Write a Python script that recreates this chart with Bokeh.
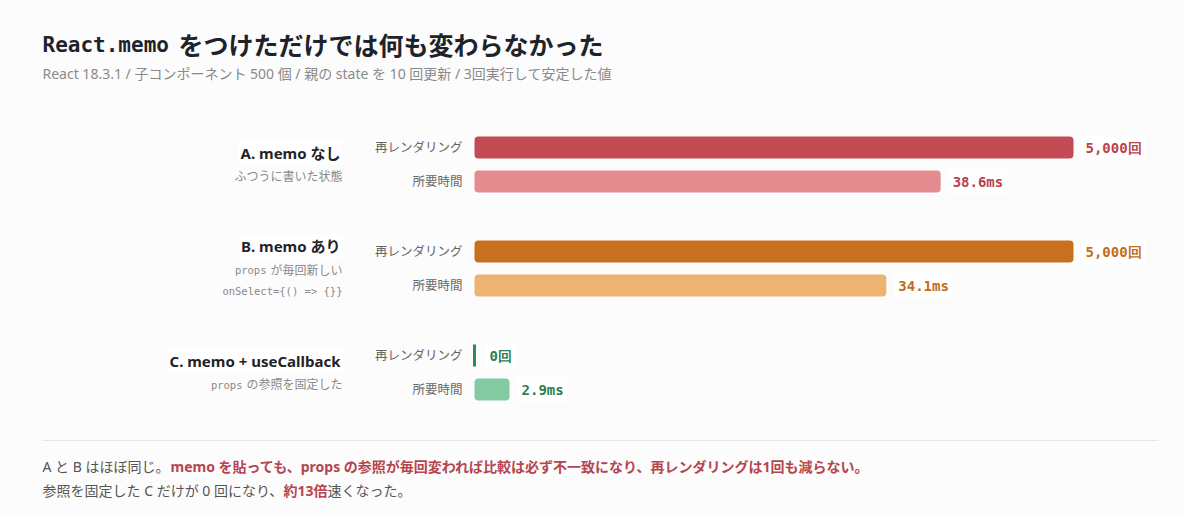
from bokeh.core.properties import value
from bokeh.embed import file_html
from bokeh.models import BooleanFilter, CDSView, ColumnDataSource, Range1d
from bokeh.plotting import figure
from bokeh.resources import INLINE

# data
groups = ["A. memo なし", "B. memo あり", "C. memo + useCallback"]
# each note line: (mono part, sans part)
group_notes = [
    [("", "ふつうに書いた状態")],
    [("props", "が毎回新しい"), ("onSelect={() => {}}", "")],
    [("props", "の参照を固定した")],
]
row_names = ["再レンダリング", "所要時間"]
rerenders = [5000, 5000, 0]
times_ms = [38.6, 34.1, 2.9]
rerender_labels = ["5,000回", "5,000回", "0回"]
time_labels = ["38.6ms", "34.1ms", "2.9ms"]

dark = ["#c24b54", "#c9701f", "#2e8a57"]
light = ["#e48b8f", "#ecb373", "#83c9a2"]
value_colors = ["#b8434d", "#c06d1d", "#2b7f50"]

SANS = value("'Noto Sans', 'Noto Sans CJK JP'")
MONO = value("DejaVu Sans Mono")
BG = "#fcfcfc"

# layout, in screenshot pixels (data units == px)
W, H = 1184, 514
LEFT, TRACK = 474, 599
COUNT_MAX, MS_MAX = 5000, 49.6
FIRST_ROW, GROUP_GAP, ROW_GAP, BAR_H = 147, 104, 34, 22

p = figure(width=W, height=H, output_backend="svg", toolbar_location=None,
           x_range=Range1d(0, W), y_range=Range1d(H, 0),
           background_fill_color=BG, border_fill_color=BG, min_border=0)
p.axis.visible = False
p.grid.visible = False
p.outline_line_color = None


def track_range(vmax):
    return Range1d(-LEFT / TRACK * vmax, (W - LEFT) / TRACK * vmax)


p.extra_x_ranges = {"count": track_range(COUNT_MAX), "ms": track_range(MS_MAX)}

y_count = [FIRST_ROW + i * GROUP_GAP for i in range(len(groups))]
y_time = [y + ROW_GAP for y in y_count]

count_src = ColumnDataSource(data=dict(y=y_count, v=rerenders, c=dark))
time_src = ColumnDataSource(data=dict(y=y_time, v=times_ms, c=light))

p.hbar(y="y", height=BAR_H, left=0, right="v", fill_color="c", line_color=None,
       border_radius=4, source=count_src, x_range_name="count")
p.hbar(y="y", height=BAR_H, left=0, right="v", fill_color="c", line_color=None,
       border_radius=4, source=time_src, x_range_name="ms")

# zero counts still get a thin stub
zero_view = CDSView(filter=BooleanFilter([v == 0 for v in rerenders]))
p.rect(x=0, y="y", width=3, height=BAR_H, width_units="screen", fill_color="c",
       line_color=None, source=count_src, view=zero_view, x_range_name="count")

# value labels
p.text(x=rerenders, y=y_count, text=rerender_labels, text_color=value_colors,
       x_offset=[11 if v == 0 else 8 for v in rerenders], text_font=MONO,
       text_font_style="bold", text_font_size="14px", text_baseline="middle",
       background_fill_color="#ffffff", padding=4, x_range_name="count")
p.text(x=times_ms, y=y_time, text=time_labels, text_color=value_colors,
       x_offset=8, text_font=MONO, text_font_style="bold", text_font_size="14px",
       text_baseline="middle", background_fill_color="#ffffff", padding=4,
       x_range_name="ms")

# row labels
p.text(x=[462] * 3, y=y_count, text=[row_names[0]] * 3, text_color="#666666",
       text_font=SANS, text_font_size="12.5px", text_align="right", text_baseline="middle")
p.text(x=[462] * 3, y=y_time, text=[row_names[1]] * 3, text_color="#666666",
       text_font=SANS, text_font_size="12.5px", text_align="right", text_baseline="middle")

# group labels + notes, centred on the bar pair
for i, name in enumerate(groups):
    notes = group_notes[i]
    centre = (y_count[i] + y_time[i]) / 2
    span = 24 + 21 * (len(notes) - 1)
    top = centre - span / 2
    p.text(x=[342], y=[top], text=[name], text_color="#1f2328", text_font=SANS,
           text_font_style="bold", text_font_size="15px", text_align="right",
           text_baseline="middle", background_fill_color="#ffffff", padding=2)
    for j, (mono, sans) in enumerate(notes):
        yy = top + 24 + 21 * j
        right = 342
        if sans:
            p.text(x=[right], y=[yy], text=[sans], text_color="#8a8a8a", text_font=SANS,
                   text_font_size="12px", text_align="right", text_baseline="middle")
            right -= 12 * len(sans) + 4
        if mono:
            p.text(x=[right], y=[yy], text=[mono], text_color="#8a8a8a", text_font=MONO,
                   text_font_size="10.5px", text_align="right", text_baseline="middle")

# title
p.text(x=[42], y=[44], text=["React.memo"], text_color="#1e2329", text_font=MONO,
       text_font_style="bold", text_font_size="21px", text_baseline="middle")
p.text(x=[178], y=[44], text=["をつけただけでは何も変わらなかった"], text_color="#1e2329",
       text_font=SANS, text_font_style="bold", text_font_size="25px", text_baseline="middle")
p.text(x=[42], y=[73],
       text=["React 18.3.1 / 子コンポーネント 500 個 / 親の state を 10 回更新 / 3回実行して安定した値"],
       text_color="#8a8a8a", text_font=SANS, text_font_size="14px", text_baseline="middle")

# footer
p.segment(x0=[42], y0=[440], x1=[1158], y1=[440], line_color="#e6e6e6", line_width=1)
GRAY, RED = "#555555", "#b5454e"
footer = [
    (42, 466, "A と B はほぼ同じ。", GRAY, "normal"),
    (170, 466, "memo を貼っても、props の参照が毎回変われば比較は必ず不一致になり、再レンダリングは1回も減らない。", RED, "bold"),
    (42, 490, "参照を固定した C だけが 0 回になり、", GRAY, "normal"),
    (283, 490, "約13倍", RED, "bold"),
    (327, 490, "速くなった。", GRAY, "normal"),
]
for fx, fy, ft, fc, fs in footer:
    p.text(x=[fx], y=[fy], text=[ft], text_color=fc, text_font=SANS, text_font_style=fs,
           text_font_size="14px", text_baseline="middle")

open("out.html", "w").write(file_html(p, INLINE))
